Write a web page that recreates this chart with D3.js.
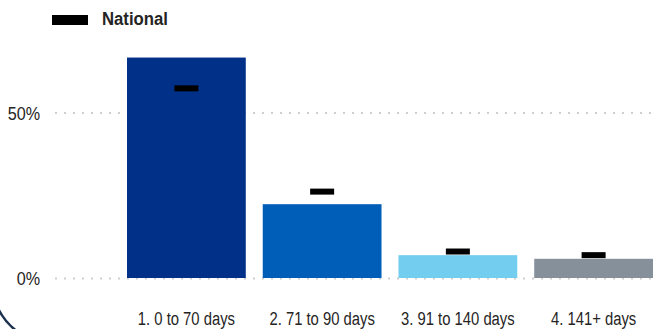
<!DOCTYPE html>
<html>
<head>
<meta charset="utf-8">
<script src="https://cdn.jsdelivr.net/npm/d3@7"></script>
<style>
  body { margin: 0; background: #fff; }
  svg { display: block; }
  .lbl { font-family: "Liberation Sans", Arial, sans-serif; fill: #252423; }
</style>
</head>
<body>
<svg width="655" height="329"></svg>
<script>
const categories = ["1. 0 to 70 days", "2. 71 to 90 days", "3. 91 to 140 days", "4. 141+ days"];
const localValues = [66.6, 22.3, 6.9, 5.8];
const nationalValues = [57.3, 26.1, 8.0, 6.9];
const barColors = ["#003087", "#005EB8", "#72CDEF", "#86909B"];
const yTicks = [0, 50];
const legendLabel = "National";

const svg = d3.select("svg");

// scales
const x = d3.scaleBand().domain(categories).range([127, 653]).paddingInner(0.125).paddingOuter(0);
const y = d3.scaleLinear().domain([0, 50]).range([278, 112.5]);

// squeeze text horizontally, the source render looks narrow
function squeeze(sel, sx) {
  sel.attr("transform", function () {
    const tx = +d3.select(this).attr("data-x");
    const ty = +d3.select(this).attr("data-y");
    return "translate(" + tx + "," + ty + ") scale(" + sx + ",1)";
  });
}

// dotted grid lines
svg.append("g")
  .selectAll("line")
  .data(yTicks)
  .enter()
  .append("line")
  .attr("x1", 55)
  .attr("x2", 653)
  .attr("y1", (d) => y(d) + 0.5)
  .attr("y2", (d) => y(d) + 0.5)
  .attr("stroke", "#cfcfcf")
  .attr("stroke-width", 2)
  .attr("stroke-dasharray", "2,7");

// y labels
svg.append("g")
  .selectAll("text")
  .data(yTicks)
  .enter()
  .append("text")
  .attr("class", "lbl")
  .attr("data-x", 40)
  .attr("data-y", (d) => y(d) + 7)
  .attr("text-anchor", "end")
  .style("font-size", "19px")
  .text((d) => d + "%")
  .call(squeeze, 0.85);

// bars
svg.append("g")
  .selectAll("rect")
  .data(localValues)
  .enter()
  .append("rect")
  .attr("x", (d, i) => x(categories[i]))
  .attr("y", (d) => y(d))
  .attr("width", x.bandwidth())
  .attr("height", (d) => y(0) - y(d))
  .attr("fill", (d, i) => barColors[i]);

// national markers
svg.append("g")
  .selectAll("rect")
  .data(nationalValues)
  .enter()
  .append("rect")
  .attr("x", (d, i) => x(categories[i]) + x.bandwidth() / 2 - 12)
  .attr("y", (d) => y(d) - 3)
  .attr("width", 24)
  .attr("height", 6)
  .attr("fill", "#000");

// x labels
svg.append("g")
  .selectAll("text")
  .data(categories)
  .enter()
  .append("text")
  .attr("class", "lbl")
  .attr("data-x", (d) => x(d) + x.bandwidth() / 2)
  .attr("data-y", 325)
  .attr("text-anchor", "middle")
  .style("font-size", "19px")
  .text((d) => d)
  .call(squeeze, 0.78);

// legend
svg.append("rect")
  .attr("x", 52)
  .attr("y", 15)
  .attr("width", 36)
  .attr("height", 10)
  .attr("fill", "#000");
svg.append("text")
  .attr("class", "lbl")
  .attr("data-x", 102)
  .attr("data-y", 25)
  .style("font-size", "19px")
  .style("font-weight", "bold")
  .text(legendLabel)
  .call(squeeze, 0.88);

// frame corner at bottom left
svg.append("path")
  .attr("d", "M-3,306 Q4,322 18,332")
  .attr("fill", "none")
  .attr("stroke", "#1c3050")
  .attr("stroke-width", 2.5);
</script>
</body>
</html>
